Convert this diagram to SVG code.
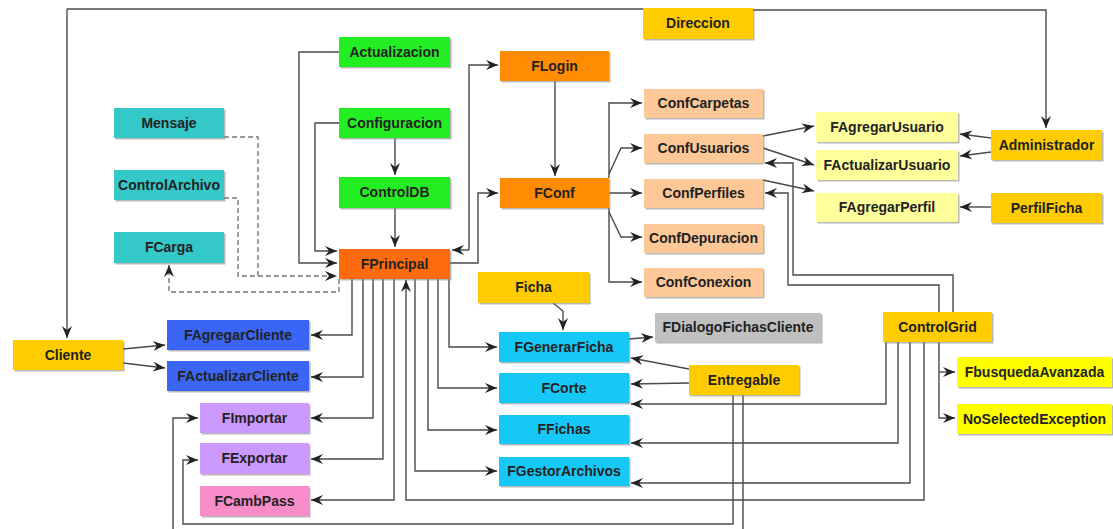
<svg xmlns="http://www.w3.org/2000/svg" width="1113" height="529" viewBox="0 0 1113 529">
<style>
rect{filter:url(#sh)}
text{font-family:"Liberation Sans",Arial,sans-serif;font-weight:bold;font-size:14px;fill:#222;text-anchor:middle}
.c path{fill:none;stroke:#4a4a4a;stroke-width:1.4;marker-end:url(#ar)}
.c path.n{marker-end:none}
.c path.d{stroke:#777;stroke-dasharray:5,3}
.gold{fill:#ffcc00}.grn{fill:#22ee22}.fp{fill:#ff6a0a}.or{fill:#ff8c00}.teal{fill:#35c8c8}
.peach{fill:#fcc898}.ly{fill:#ffff9c}.cy{fill:#19c8f5}.gr{fill:#c0c0c0}.yl{fill:#ffff00}
.bl{fill:#3a66f5}.lav{fill:#cc99ff}.pk{fill:#f88cc8}
</style>
<defs>
<filter id="sh" x="-5%" y="-10%" width="115%" height="130%"><feDropShadow dx="1.5" dy="1.5" stdDeviation="0.6" flood-color="#888" flood-opacity="0.6"/></filter>
<marker id="ar" markerUnits="userSpaceOnUse" markerWidth="13" markerHeight="11" refX="12" refY="5" orient="auto"><path d="M0,0 L12,5 L0,10 L4,5 z" fill="#222"/></marker>
</defs>
<rect width="1113" height="529" fill="#fff" style="filter:none"/>
<g class="c">
<path class="n" d="M643,9 H67"/><path d="M67,9 V338"/>
<path d="M753,10 H1046 V128"/>
<path d="M339,52 H299 V263 H337"/>
<path d="M339,123 H315 V251 H337"/>
<path class="d n" d="M224,137 H258 V276"/>
<path class="d" d="M224,198 H238 V276 H337"/>
<path class="d" d="M339,279 V292 H169 V265"/>
<path d="M395,138 V175"/>
<path d="M395,208 V247"/>
<path d="M469,250 H452"/>
<path d="M469,250 V65 H498"/>
<path d="M450,263 H478 V193 H498"/>
<path d="M555,81 V176"/>
<path d="M609,178 V103 H642"/>
<path d="M609,174 L621,148 H642"/>
<path d="M609,193 H642"/>
<path d="M609,212 L621,237 H642"/>
<path d="M609,208 V282 H642"/>
<path d="M763,136 L814,126"/>
<path d="M763,148 L814,165"/>
<path d="M763,180 L814,191"/>
<path d="M991,138 L960,134"/>
<path d="M991,152 L960,156"/>
<path d="M991,207 H960"/>
<path d="M953,312 V275 H793 V163 H765"/>
<path d="M939,312 V285 H788 V193 H765"/>
<path d="M939,342 V418 H955"/>
<path d="M939,372 H955"/>
<path d="M886,342 V404 H631"/>
<path d="M898,342 V443 H631"/>
<path d="M910,342 V483 H631"/>
<path d="M924,342 V500 H406 V280"/>
<path d="M689,369 L631,358"/>
<path d="M689,383 L631,384"/>
<path d="M733,395 V524 H183 V460 H198"/>
<path class="n" d="M743,395 V535"/>
<path d="M173,540 V418 H198"/>
<path d="M352,279 V335 H311"/>
<path d="M363,279 V377 H311"/>
<path d="M373,279 V418 H311"/>
<path d="M383,279 V459 H311"/>
<path d="M394,279 V500 H311"/>
<path d="M415,279 V471 H497"/>
<path d="M428,279 V430 H497"/>
<path d="M438,279 V388 H497"/>
<path d="M449,279 V347 H497"/>
<path d="M123,349 L165,345"/>
<path d="M123,363 L165,368"/>
<path d="M553,303 L563,311 V330"/>
<path d="M629,339 L653,337"/>
</g>
<g id="Direccion"><rect class="gold" x="643" y="8" width="110" height="31"/><text x="698" y="28">Direccion</text></g>
<g id="Actualizacion"><rect class="grn" x="339" y="37" width="111" height="30"/><text x="394.5" y="57">Actualizacion</text></g>
<g id="Configuracion"><rect class="grn" x="339" y="108" width="111" height="30"/><text x="394.5" y="128">Configuracion</text></g>
<g id="ControlDB"><rect class="grn" x="339" y="177" width="111" height="31"/><text x="394.5" y="197">ControlDB</text></g>
<g id="FPrincipal"><rect class="fp" x="339" y="249" width="111" height="30"/><text x="394.5" y="269">FPrincipal</text></g>
<g id="Mensaje"><rect class="teal" x="114" y="108" width="110" height="30"/><text x="169" y="128">Mensaje</text></g>
<g id="ControlArchivo"><rect class="teal" x="114" y="170" width="110" height="30"/><text x="169" y="190">ControlArchivo</text></g>
<g id="FCarga"><rect class="teal" x="114" y="232" width="110" height="31"/><text x="169" y="252">FCarga</text></g>
<g id="FLogin"><rect class="or" x="500" y="51" width="109" height="30"/><text x="554.5" y="71">FLogin</text></g>
<g id="FConf"><rect class="or" x="500" y="178" width="109" height="30"/><text x="554.5" y="198">FConf</text></g>
<g id="ConfCarpetas"><rect class="peach" x="644" y="89" width="119" height="29"/><text x="703.5" y="108">ConfCarpetas</text></g>
<g id="ConfUsuarios"><rect class="peach" x="644" y="134" width="119" height="29"/><text x="703.5" y="153">ConfUsuarios</text></g>
<g id="ConfPerfiles"><rect class="peach" x="644" y="179" width="119" height="29"/><text x="703.5" y="198">ConfPerfiles</text></g>
<g id="ConfDepuracion"><rect class="peach" x="644" y="224" width="119" height="29"/><text x="703.5" y="243">ConfDepuracion</text></g>
<g id="ConfConexion"><rect class="peach" x="644" y="268" width="119" height="29"/><text x="703.5" y="287">ConfConexion</text></g>
<g id="FAgregarUsuario"><rect class="ly" x="816" y="112" width="142" height="30"/><text x="887" y="132">FAgregarUsuario</text></g>
<g id="FActualizarUsuario"><rect class="ly" x="816" y="150" width="142" height="30"/><text x="887" y="170">FActualizarUsuario</text></g>
<g id="FAgregarPerfil"><rect class="ly" x="816" y="193" width="142" height="29"/><text x="887" y="212">FAgregarPerfil</text></g>
<g id="Administrador"><rect class="gold" x="991" y="130" width="111" height="30"/><text x="1046.5" y="150">Administrador</text></g>
<g id="PerfilFicha"><rect class="gold" x="991" y="193" width="111" height="30"/><text x="1046.5" y="213">PerfilFicha</text></g>
<g id="Ficha"><rect class="gold" x="478" y="272" width="111" height="31"/><text x="533.5" y="292">Ficha</text></g>
<g id="FGenerarFicha"><rect class="cy" x="499" y="332" width="130" height="30"/><text x="564" y="352">FGenerarFicha</text></g>
<g id="FCorte"><rect class="cy" x="499" y="373" width="130" height="30"/><text x="564" y="393">FCorte</text></g>
<g id="FFichas"><rect class="cy" x="499" y="415" width="130" height="29"/><text x="564" y="434">FFichas</text></g>
<g id="FGestorArchivos"><rect class="cy" x="499" y="457" width="130" height="29"/><text x="564" y="476">FGestorArchivos</text></g>
<g id="FDialogoFichasCliente"><rect class="gr" x="655" y="313" width="166" height="29"/><text x="738" y="332">FDialogoFichasCliente</text></g>
<g id="Entregable"><rect class="gold" x="689" y="365" width="110" height="30"/><text x="744" y="385">Entregable</text></g>
<g id="ControlGrid"><rect class="gold" x="883" y="312" width="109" height="30"/><text x="937.5" y="332">ControlGrid</text></g>
<g id="FbusquedaAvanzada"><rect class="yl" x="957" y="357" width="155" height="30"/><text x="1034.5" y="377">FbusquedaAvanzada</text></g>
<g id="NoSelectedException"><rect class="yl" x="957" y="404" width="155" height="30"/><text x="1034.5" y="424">NoSelectedException</text></g>
<g id="Cliente"><rect class="gold" x="13" y="340" width="110" height="30"/><text x="68" y="360">Cliente</text></g>
<g id="FAgregarCliente"><rect class="bl" x="167" y="320" width="142" height="30"/><text x="238" y="340">FAgregarCliente</text></g>
<g id="FActualizarCliente"><rect class="bl" x="167" y="361" width="142" height="30"/><text x="238" y="381">FActualizarCliente</text></g>
<g id="FImportar"><rect class="lav" x="200" y="403" width="109" height="30"/><text x="254.5" y="423">FImportar</text></g>
<g id="FExportar"><rect class="lav" x="200" y="443" width="109" height="31"/><text x="254.5" y="463">FExportar</text></g>
<g id="FCambPass"><rect class="pk" x="200" y="486" width="109" height="30"/><text x="254.5" y="506">FCambPass</text></g>
</svg>
